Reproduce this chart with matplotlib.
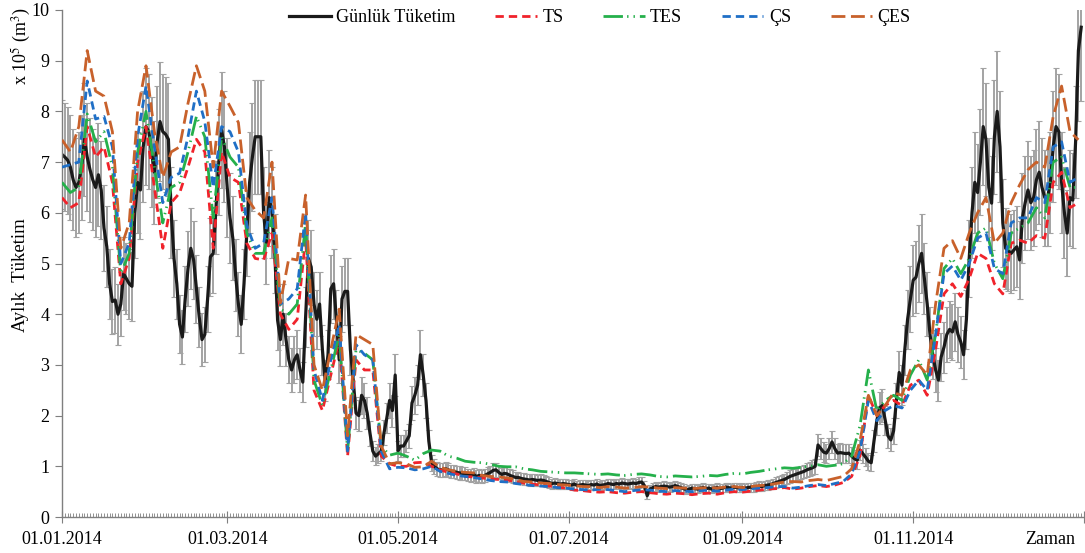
import numpy as np
import matplotlib
matplotlib.use("Agg")
import matplotlib.pyplot as plt
import matplotlib.dates as mdates

plt.rcParams['font.family'] = ['Liberation Serif', 'DejaVu Serif']
plt.rcParams['mathtext.fontset'] = 'stix'

START = np.datetime64('2014-01-01')
END = np.datetime64('2015-01-01')
FC_STEP = 3        # forecast series were read every 3 days
ERR_PCT = 0.15     # percentage error bars on the daily series

tick_dates = ['2014-01-01', '2014-03-01', '2014-05-01', '2014-07-01', '2014-09-01', '2014-11-01']
tick_labels = ['01.01.2014', '01.03.2014', '01.05.2014', '01.07.2014', '01.09.2014', '01.11.2014']

# daily consumption (x 10^5 m3), one value per day from 01.01.2014
gunluk = [
    # Jan
    7.15, 7.1, 7.04, 6.9, 6.65, 6.5, 6.6, 6.9, 7.45, 7.1, 6.85, 6.65, 6.5, 6.75, 6.45, 5.7,
    5.33, 4.6, 4.25, 4.28, 4.0, 4.2, 4.8, 4.7, 4.6, 4.55, 6.0, 6.6, 6.45, 7.3, 7.7,
    # Feb
    7.6, 7.2, 6.8, 7.4, 7.8, 7.6, 7.55, 7.45, 6.0, 5.1, 4.6, 3.8, 3.55, 4.3, 4.9, 5.3,
    5.07, 4.5, 3.95, 3.5, 3.6, 4.3, 5.13, 5.2, 6.1, 7.0, 7.63, 7.3,
    # Mar
    6.5, 5.9, 5.5, 4.77, 4.2, 3.8, 4.6, 5.6, 6.6, 7.1, 7.5, 7.5, 7.5, 6.0, 5.4, 6.3,
    6.0, 5.2, 3.88, 3.5, 4.0, 3.5, 3.1, 2.9, 3.1, 3.2, 2.9, 2.66, 3.94, 5.1, 4.93,
    # Apr
    4.2, 3.9, 4.2, 3.3, 2.7, 3.2, 4.5, 4.6, 3.9, 3.1, 4.3, 4.45, 4.45, 3.3, 2.7, 2.05,
    2.0, 2.4, 2.3, 2.05, 1.65, 1.3, 1.2, 1.25, 1.3, 1.66, 1.95, 2.3, 2.1, 2.8,
    # May
    1.3, 1.4, 1.4, 1.5, 1.6, 2.25, 2.4, 2.6, 3.2, 2.8, 2.3, 1.5, 1.07, 1.0, 0.95, 0.93,
    0.93, 0.95, 0.93, 0.9, 0.9, 0.88, 0.87, 0.86, 0.85, 0.83, 0.82, 0.84, 0.8, 0.82, 0.8,
    # Jun
    0.82, 0.85, 0.88, 0.92, 0.93, 0.88, 0.84, 0.86, 0.85, 0.82, 0.8, 0.78, 0.78, 0.76, 0.75,
    0.74, 0.73, 0.74, 0.73, 0.72, 0.73, 0.72, 0.7, 0.68, 0.66, 0.67, 0.66, 0.65, 0.66, 0.65,
    # Jul
    0.64, 0.63, 0.65, 0.62, 0.63, 0.64, 0.63, 0.62, 0.64, 0.63, 0.65, 0.62, 0.63, 0.64, 0.66,
    0.65, 0.64, 0.66, 0.65, 0.67, 0.66, 0.65, 0.66, 0.67, 0.66, 0.68, 0.69, 0.62, 0.42, 0.55, 0.58,
    # Aug
    0.6, 0.59, 0.6, 0.61, 0.6, 0.59, 0.6, 0.62, 0.6, 0.58, 0.56, 0.54, 0.55, 0.57, 0.56,
    0.55, 0.57, 0.58, 0.56, 0.57, 0.55, 0.57, 0.58, 0.56, 0.57, 0.59, 0.58, 0.57, 0.59, 0.58, 0.57,
    # Sep
    0.58, 0.57, 0.58, 0.59, 0.58, 0.6, 0.61, 0.6, 0.62, 0.63, 0.64, 0.66, 0.68, 0.7, 0.72,
    0.74, 0.77, 0.8, 0.82, 0.84, 0.86, 0.88, 0.9, 0.93, 0.95, 0.97, 1.0, 1.42, 1.35, 1.28,
    # Oct
    1.26, 1.35, 1.48, 1.35, 1.26, 1.27, 1.26, 1.25, 1.26, 1.2, 1.15, 1.12, 1.32, 1.25, 1.18,
    1.1, 1.07, 1.5, 1.9, 2.15, 2.2, 1.91, 1.6, 1.52, 1.7, 2.3, 2.85, 2.6, 3.3, 3.9, 4.3,
    # Nov
    4.67, 4.73, 5.0, 5.2, 4.7, 4.2, 3.6, 3.2, 2.9, 2.7, 3.16, 3.35, 3.6, 3.7, 3.65, 3.85,
    3.6, 3.45, 3.2, 3.9, 5.1, 6.0, 6.6, 6.4, 7.0, 7.7, 7.44, 6.5, 6.19, 7.5,
    # Dec
    8.0, 7.3, 5.8, 5.3, 5.25, 5.2, 5.27, 5.33, 5.07, 5.9, 6.2, 6.45, 6.2, 6.3, 6.65, 6.8,
    6.5, 6.3, 6.3, 6.6, 7.3, 7.7, 7.6, 6.6, 6.0, 5.6, 6.3, 6.25, 7.4, 9.2, 9.66,
]

# model outputs, one value every FC_STEP days
ts = [
    6.3, 6.1, 6.2, 7.7, 7.1, 7.3, 6.6, 4.6, 5.1, 7.0,
    7.7, 6.5, 5.3, 6.2, 6.39, 6.9, 7.45, 7.2, 5.3, 7.2,
    6.7, 6.6, 5.4, 5.1, 5.07, 5.6, 4.0, 3.7, 3.9, 5.5,
    2.5, 2.1, 2.8, 3.5, 1.2, 3.1, 2.9, 2.9, 1.2, 1.05,
    1.0, 1.0, 1.07, 1.08, 1.0, 0.93, 0.88, 0.85, 0.8, 0.79,
    0.77, 0.75, 0.74, 0.73, 0.7, 0.67, 0.65, 0.63, 0.61, 0.59,
    0.57, 0.53, 0.52, 0.5, 0.49, 0.5, 0.48, 0.47, 0.49, 0.5,
    0.48, 0.46, 0.45, 0.47, 0.46, 0.44, 0.46, 0.47, 0.45, 0.48,
    0.5, 0.49, 0.51, 0.53, 0.55, 0.56, 0.58, 0.55, 0.57, 0.6,
    0.62, 0.6, 0.63, 0.68, 0.8, 1.2, 2.4, 2.0, 2.2, 2.3,
    2.2, 2.6, 2.7, 2.4, 3.3, 4.4, 4.6, 4.35, 4.7, 5.2,
    5.1, 4.6, 4.4, 5.4, 5.46, 5.4, 5.55, 5.5, 6.6, 6.8,
    6.1, 6.2,
]
tes = [
    6.6, 6.4, 6.5, 7.95, 7.4, 7.6, 6.9, 4.8, 5.2, 7.2,
    8.0, 6.9, 5.8, 6.5, 6.6, 7.2, 7.9, 7.5, 5.9, 7.5,
    7.1, 6.9, 5.6, 5.2, 5.2, 5.9, 4.1, 4.0, 4.2, 5.8,
    2.7, 2.2, 2.9, 3.6, 1.3, 3.3, 3.23, 3.1, 1.4, 1.22,
    1.26, 1.2, 1.12, 1.25, 1.32, 1.3, 1.2, 1.16, 1.1, 1.08,
    1.07, 1.04, 1.0, 0.99, 0.99, 0.95, 0.93, 0.9, 0.89, 0.88,
    0.87, 0.87, 0.86, 0.85, 0.84, 0.85, 0.83, 0.82, 0.84, 0.85,
    0.83, 0.8, 0.79, 0.81, 0.8, 0.79, 0.8, 0.82, 0.81, 0.84,
    0.86, 0.85, 0.88, 0.9, 0.93, 0.95, 0.97, 0.96, 0.98, 1.0,
    1.03, 1.0, 1.02, 1.05, 1.2, 1.8, 2.9, 2.1, 2.3, 2.4,
    2.3, 2.8, 3.1, 2.7, 3.6, 4.9, 5.1, 4.8, 5.1, 5.6,
    5.7, 5.0, 4.7, 5.6, 5.7, 5.8, 6.1, 5.9, 7.0, 7.1,
    6.5, 6.5,
]
cs = [
    6.9, 6.95, 7.0, 8.6, 7.85, 7.9, 7.3, 5.0, 5.4, 7.5,
    8.5, 7.3, 6.2, 6.7, 6.78, 7.5, 8.4, 7.8, 6.5, 7.7,
    7.6, 7.2, 5.75, 5.3, 5.4, 6.3, 4.2, 4.3, 4.5, 6.0,
    2.9, 2.3, 3.1, 3.8, 1.3, 3.4, 3.2, 3.1, 1.3, 0.95,
    0.98, 0.97, 0.93, 0.95, 1.0, 0.9, 0.86, 0.82, 0.8, 0.78,
    0.75, 0.72, 0.7, 0.69, 0.66, 0.64, 0.62, 0.61, 0.6, 0.58,
    0.57, 0.55, 0.54, 0.53, 0.55, 0.54, 0.52, 0.5, 0.52, 0.54,
    0.53, 0.51, 0.5, 0.52, 0.51, 0.5, 0.52, 0.53, 0.51, 0.53,
    0.55, 0.54, 0.56, 0.57, 0.58, 0.6, 0.6, 0.57, 0.59, 0.62,
    0.64, 0.62, 0.66, 0.7, 0.85, 1.3, 2.3, 1.9, 2.1, 2.2,
    2.15, 2.5, 2.7, 2.5, 3.6, 4.8, 4.95, 4.67, 5.0, 5.5,
    5.6, 4.9, 4.8, 5.8, 5.9, 5.9, 6.3, 6.2, 7.3, 7.4,
    6.6, 6.7,
]
ces = [
    7.44, 7.2, 7.7, 9.2, 8.4, 8.3, 7.6, 5.3, 5.8, 8.0,
    8.9, 7.6, 6.7, 7.2, 7.3, 8.16, 8.9, 8.4, 6.9, 8.4,
    8.1, 7.78, 6.3, 6.05, 5.9, 7.0, 4.22, 5.1, 5.07, 6.35,
    3.0, 2.5, 3.3, 4.1, 1.6, 3.6, 3.5, 3.4, 1.4, 1.05,
    1.07, 1.05, 0.98, 0.99, 1.1, 0.98, 0.93, 0.9, 0.88, 0.87,
    0.82, 0.8, 0.79, 0.77, 0.74, 0.7, 0.69, 0.67, 0.66, 0.64,
    0.63, 0.62, 0.6, 0.6, 0.58, 0.6, 0.59, 0.57, 0.58, 0.6,
    0.59, 0.57, 0.56, 0.58, 0.57, 0.56, 0.57, 0.58, 0.57, 0.59,
    0.6, 0.58, 0.6, 0.62, 0.63, 0.66, 0.69, 0.7, 0.69, 0.72,
    0.74, 0.72, 0.76, 0.8, 0.95, 1.5, 2.4, 2.0, 2.2, 2.45,
    2.4, 2.9, 3.0, 2.8, 4.2, 5.3, 5.45, 5.1, 5.6, 6.0,
    6.3, 5.4, 5.6, 6.2, 6.55, 6.85, 7.0, 6.9, 7.9, 8.5,
    7.6, 7.44,
]

W, H = 1085, 553
fig = plt.figure(figsize=(W / 100, H / 100), dpi=100)
ax = fig.add_axes([62 / W, 1 - 517 / H, (1084 - 62) / W, (517 - 10) / H])

g = np.array(gunluk)
g_days = START + np.arange(len(g))


def fc_days(vals):
    return START + np.arange(len(vals)) * FC_STEP


ax.errorbar(g_days, g, yerr=g * ERR_PCT, fmt='none', ecolor='#a3a3a3',
            elinewidth=1.4, capsize=2.5, capthick=0.8, zorder=1)
ax.plot(g_days, g, color='#1a1a1a', lw=2.3, label='Günlük Tüketim', zorder=2)
ax.plot(fc_days(ts), ts, color='#f0232b', lw=2, dashes=(3, 1.8), label='TS', zorder=3)
ax.plot(fc_days(tes), tes, color='#25b04b', lw=2, dashes=(7, 1.5, 0.5, 1.8, 0.5, 1.8),
        label='TES', zorder=3)
ax.plot(fc_days(cs), cs, color='#1f6fc6', lw=2, dashes=(3, 1.8), label='ÇS', zorder=3)
ax.plot(fc_days(ces), ces, color='#c8612b', lw=2, dashes=(5, 2), label='ÇES', zorder=3)

ax.set_xlim(START, END)
ax.set_ylim(0, 10)
ax.set_yticks(range(0, 11))
# last major tick marks the end of the axis, without a label
ax.set_xticks(np.array(tick_dates + ['2015-01-01'], dtype='datetime64[D]'))
ax.set_xticklabels(tick_labels + [''])
ax.xaxis.set_minor_locator(mdates.DayLocator())

for s in ['top', 'right']:
    ax.spines[s].set_visible(False)
for s in ['left', 'bottom']:
    ax.spines[s].set_color('#7f7f7f')
    ax.spines[s].set_linewidth(1)
ax.tick_params(axis='x', which='major', direction='inout', length=8, color='#7f7f7f',
               labelsize=13, pad=6)
ax.tick_params(axis='x', which='minor', direction='in', length=3, color='#7f7f7f', width=0.6)
ax.tick_params(axis='y', direction='out', length=5, color='#7f7f7f', labelsize=13, pad=4)

fig.text(21 / W, 1 - 275 / H, 'Aylık  Tüketim', rotation=90, ha='center', va='center', fontsize=13.5)
fig.text(21 / W, 1 - 46 / H, 'x 10$^5$ (m$^3$)', rotation=90, ha='center', va='center', fontsize=13)
fig.text(1050 / W, 1 - 540 / H, 'Zaman', ha='center', va='center', fontsize=13)

ax.legend(loc='center', bbox_to_anchor=(600 / W, 1 - 18 / H), bbox_transform=fig.transFigure,
          ncol=5, frameon=False, fontsize=13, handlelength=2.3, handletextpad=0.3,
          columnspacing=2.2)

fig.savefig('out.png', dpi=100)
